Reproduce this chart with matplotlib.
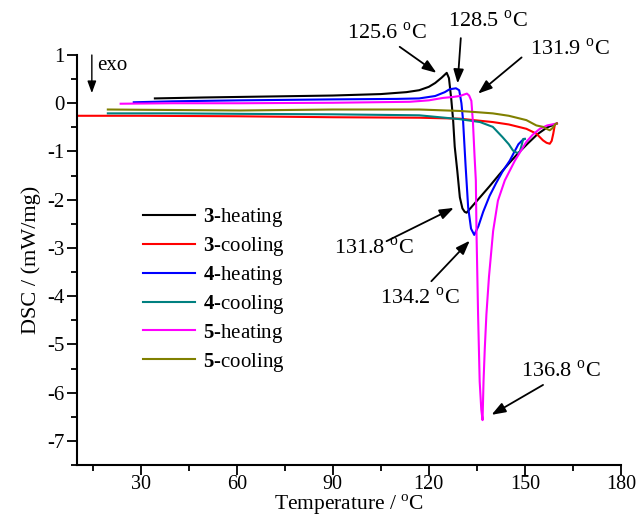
import matplotlib
matplotlib.use("Agg")
import matplotlib.pyplot as plt
from matplotlib.ticker import MultipleLocator

plt.rcParams["font.family"] = ["Liberation Serif", "DejaVu Serif"]
plt.rcParams["mathtext.fontset"] = "custom"
plt.rcParams["mathtext.rm"] = "Liberation Serif"
plt.rcParams["mathtext.bf"] = "Liberation Serif:bold"
plt.rcParams["axes.unicode_minus"] = False

# 3-heating
t3h = [34.4, 50, 70, 90, 105, 113, 117, 120, 122, 124, 125.6, 126.3, 127.0, 127.6,
       128.1, 128.9, 129.7, 130.5, 131.2, 131.8, 133.5, 136, 139, 142, 145, 148,
       151, 154, 157, 160]
d3h = [0.10, 0.12, 0.14, 0.16, 0.19, 0.23, 0.27, 0.34, 0.42, 0.53, 0.63, 0.52, 0.10,
       -0.35, -0.90, -1.40, -1.95, -2.18, -2.25, -2.27, -2.14, -1.95, -1.72, -1.48,
       -1.25, -1.03, -0.83, -0.64, -0.50, -0.42]

# 3-cooling
t3c = [160, 159.4, 158.9, 158.4, 157.8, 156.8, 155.7, 153.6, 150.5, 145, 140, 134,
       129.7, 117, 90, 60, 30, 10]
d3c = [-0.42, -0.44, -0.63, -0.78, -0.84, -0.82, -0.77, -0.63, -0.53, -0.44, -0.39,
       -0.35, -0.32, -0.30, -0.29, -0.27, -0.26, -0.26]

# 4-heating
t4h = [27.8, 40, 61, 90, 110, 117, 122, 125, 126.5, 128.5, 129.5, 130.2, 130.7,
       131.5, 132.3, 133.2, 134.2, 135.5, 137, 139, 141, 143, 145.3, 146.8, 148,
       149.2, 150]
d4h = [0.02, 0.04, 0.06, 0.08, 0.09, 0.10, 0.15, 0.23, 0.29, 0.31, 0.27, 0.0, -0.35,
       -1.30, -2.16, -2.60, -2.73, -2.55, -2.25, -1.92, -1.66, -1.42, -1.19, -1.00,
       -0.85, -0.77, -0.74]

# 4-cooling
t4c = [150, 149.5, 148.9, 148.4, 148.0, 147.3, 146.3, 145, 143, 140, 136, 129.7,
       117, 90, 61, 40, 19.7]
d4c = [-0.74, -0.74, -0.90, -1.01, -1.03, -1.02, -0.98, -0.85, -0.70, -0.49, -0.39,
       -0.33, -0.25, -0.23, -0.22, -0.21, -0.21]

# 5-heating
t5h = [23.7, 40, 61, 90, 114, 120, 124.4, 127.5, 129.7, 131.0, 131.9, 132.6, 133.3,
       133.8, 134.3, 134.7, 134.9, 135.4, 135.9, 136.4, 136.8, 137.1, 137.5, 138.0,
       138.8, 140.1, 141.6, 143.75, 146.9, 150.5, 152.5, 154.7, 157, 160]
d5h = [-0.01, 0.0, 0.0, 0.01, 0.03, 0.06, 0.11, 0.13, 0.15, 0.18, 0.20, 0.16, 0.05,
       -0.40, -1.10, -1.60, -2.65, -4.38, -5.77, -6.35, -6.57, -5.77, -5.08, -4.38,
       -3.60, -2.65, -2.02, -1.60, -1.19, -0.80, -0.65, -0.53, -0.46, -0.42]

# 5-cooling
t5c = [160, 159.4, 158.6, 157.8, 156.8, 155.7, 153.6, 150.5, 145, 140, 134, 129.7,
       117, 90, 61, 40, 19.7]
d5c = [-0.42, -0.44, -0.52, -0.56, -0.53, -0.49, -0.46, -0.35, -0.26, -0.21, -0.18,
       -0.16, -0.13, -0.13, -0.15, -0.14, -0.13]

series = [
    (t3h, d3h, "black", r"$\mathbf{3}$-heating"),
    (t3c, d3c, "red", r"$\mathbf{3}$-cooling"),
    (t4h, d4h, "blue", r"$\mathbf{4}$-heating"),
    (t4c, d4c, "#008080", r"$\mathbf{4}$-cooling"),
    (t5h, d5h, "magenta", r"$\mathbf{5}$-heating"),
    (t5c, d5c, "#808000", r"$\mathbf{5}$-cooling"),
]

fig = plt.figure(figsize=(6.4, 5.17), dpi=100)
ax = fig.add_axes([0.12, 0.1006, 0.85, 0.7930])

for t, d, c, lab in series:
    ax.plot(t, d, color=c, lw=1.5, label=lab)

ax.set_xlim(10, 180)
ax.set_ylim(-7.5, 1)
ax.xaxis.set_major_locator(MultipleLocator(30))
ax.xaxis.set_minor_locator(MultipleLocator(15))
ax.yaxis.set_major_locator(MultipleLocator(1))
ax.yaxis.set_minor_locator(MultipleLocator(0.5))
ax.set_xticks([30, 60, 90, 120, 150, 180])
ax.spines["top"].set_visible(False)
ax.spines["right"].set_visible(False)
for s in ("left", "bottom"):
    ax.spines[s].set_linewidth(1.5)
ax.tick_params(which="major", direction="out", length=7, width=1.3, labelsize=15)
ax.tick_params(axis="x", which="major", pad=0.5, labelsize=14.5)
ax.tick_params(axis="y", which="major", pad=2)
ax.tick_params(which="minor", direction="out", length=4, width=1.3)

ax.set_xlabel(r"Temperature / $^{\rm o}$C", fontsize=15.5, labelpad=-1)
ax.set_ylabel("DSC / (mW/mg)", fontsize=16, labelpad=4)

# peak labels: text, text centre, arrow tail, arrow head (data coords)
notes = [
    ("125.6", (107.0, 1.45), (110.9, 1.17), (122.4, 0.63)),
    ("128.5", (138.4, 1.69), (130.0, 1.35), (129.0, 0.41)),
    ("131.9", (164.1, 1.12), (149.0, 0.95), (135.4, 0.20)),
    ("131.8", (102.8, -3.00), (106.8, -2.86), (127.8, -2.17)),
    ("134.2", (117.2, -4.04), (120.8, -3.69), (132.8, -2.85)),
    ("136.8", (161.3, -5.56), (155.7, -5.84), (139.6, -6.46)),
]
for txt, pos, tail, head in notes:
    ax.annotate("", xy=head, xytext=tail, annotation_clip=False,
                arrowprops=dict(arrowstyle="-|>,head_length=0.6,head_width=0.22",
                                color="black", lw=1.3, mutation_scale=14,
                                shrinkA=0, shrinkB=0))
    ax.text(pos[0], pos[1], txt + r" $^{\rm o}$C", fontsize=16, ha="center",
            va="center", clip_on=False)

ax.annotate("", xy=(14.7, 0.21), xytext=(14.7, 1.0),
            arrowprops=dict(arrowstyle="-|>,head_length=0.6,head_width=0.22",
                            color="black", lw=1.0, mutation_scale=12,
                            shrinkA=0, shrinkB=0))
ax.text(16.3, 0.78, "exo", fontsize=15, ha="left", va="center")

ax.legend(loc="upper left", bbox_to_anchor=(0.107, 0.651), frameon=False, fontsize=15,
          handlelength=2.5, handletextpad=0.35, labelspacing=0.28, borderaxespad=0)

fig.savefig("out.png", dpi=100)
